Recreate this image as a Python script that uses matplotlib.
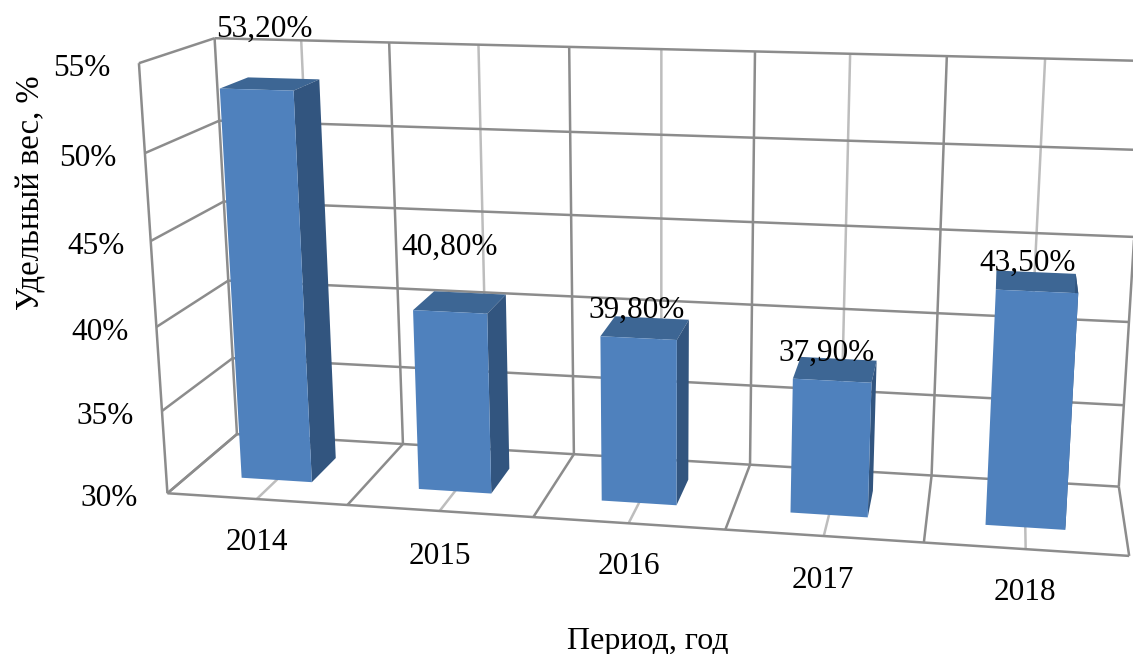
import numpy as np
import matplotlib
matplotlib.use("Agg")
from matplotlib import pyplot as plt
from mpl_toolkits.mplot3d.art3d import Line3DCollection

years = ["2014", "2015", "2016", "2017", "2018"]
values = [53.2, 40.8, 39.8, 37.9, 43.5]
y_ticks = [30, 35, 40, 45, 50, 55]

W, H = 1133, 654
plt.rcParams['font.family'] = ['Liberation Serif', 'DejaVu Serif']
FS = 22.5
DARK = '#8c8c8c'
LIGHT = '#bdbdbd'

# camera calibration: corners of the chart box (cat, depth, percent) -> pixel
world = np.array([(0,0,30),(5,0,30),(0,1,30),(5,1,30),(0,1,55),(0,0,55),(5,1,55),
                  (1,1,55),(1,1,30),(1,0,30),(4,1,30),(4,0,30),(4,1,55),(2,1,30),(2,0,30),
                  (0,0,50),(0,1,50)], float)
pixel = np.array([(167,494),(1129,556),(237,434),(1119,487),(214,38),(138,63),(1144,61),
                  (389,42),(403,443),(348,505),(932,476),(924,542),(948,56),(573,454),(533,517),
                  (146,153),(220,122)], float)
rows, rhs = [], []
for (x, y, z), (u, v) in zip(world, pixel):
    rows.append([x, y, z, 1, 0, 0, 0, 0, -u*x, -u*y, -u*z])
    rows.append([0, 0, 0, 0, x, y, z, 1, -v*x, -v*y, -v*z])
    rhs += [u, v]
p = np.linalg.lstsq(np.array(rows), np.array(rhs), rcond=None)[0]
M = np.array([[p[0], p[1], p[2], p[3]],
              [p[4], p[5], p[6], p[7]],
              [0, 1, 0, 0],
              [p[8], p[9], p[10], 1]])

fig = plt.figure(figsize=(W/100, H/100), dpi=100)
# Axes3D keeps its box square, so let it run past the figure top and bottom
pad = (W - H) / 2
ax = fig.add_axes([0, -pad/H, 1, W/H], projection='3d', computed_zorder=False)
ax.set_axis_off()
ax.get_proj = lambda: M
ax.viewLim.intervalx = (0, W)
ax.viewLim.intervaly = (H + pad, -pad)

# walls and floor
n = len(years)
z0, z1 = y_ticks[0], y_ticks[-1]
light_lines, dark_lines = [], []
for i in range(n):
    c = i + 0.5
    light_lines.append([(c, 1, z0), (c, 1, z1)])
    light_lines.append([(c, 0, z0), (c, 1, z0)])
for i in range(n + 1):
    dark_lines.append([(i, 1, z0), (i, 1, z1)])
    dark_lines.append([(i, 0, z0), (i, 1, z0)])
for t in y_ticks:
    dark_lines.append([(0, 1, t), (n, 1, t)])
    dark_lines.append([(0, 0, t), (0, 1, t)])
dark_lines.append([(0, 0, z0), (0, 0, z1)])
dark_lines.append([(0, 0, z0), (n, 0, z0)])
ax.add_collection3d(Line3DCollection(light_lines, colors=LIGHT, linewidths=1.8, zorder=1))
ax.add_collection3d(Line3DCollection(dark_lines, colors=DARK, linewidths=1.8, zorder=2))

# bars, face order is bottom, top, front, back, left, right
front, top, side = '#4f81bd', '#3d6694', '#32557f'
hidden = (0, 0, 0, 0)
face_colors = [hidden, top, front, hidden, hidden, side]
bw = 0.4
for i, v in enumerate(values):
    ax.bar3d(i + 0.5 - bw/2, 0.3, z0, bw, 0.4, v - z0,
             color=face_colors, shade=False, zorder=3 + i)

def put(px, py, s, size=FS, **kw):
    fig.text(px / W, 1 - py / H, s, fontsize=size, ha='center', va='center', color='black', **kw)

label_pos = [(264, 29), (450, 247), (637, 310), (827, 353), (1028, 263)]
for (px, py), v in zip(label_pos, values):
    put(px, py, f"{v:.2f}%".replace('.', ','))

year_pos = [(257, 543), (440, 556), (629, 567), (823, 580), (1025, 593)]
for (px, py), s in zip(year_pos, years):
    put(px, py, s)

tick_pos = [(109.5, 499), (105, 417), (100, 333), (96, 247), (87.5, 159), (82, 69)]
for (px, py), t in zip(tick_pos, y_ticks):
    put(px, py, f"{t}%")

put(31, 193, "Удельный вес, %", size=23.5, rotation=90)
put(648, 641, "Период, год", size=23)

fig.savefig("out.png", dpi=100)
